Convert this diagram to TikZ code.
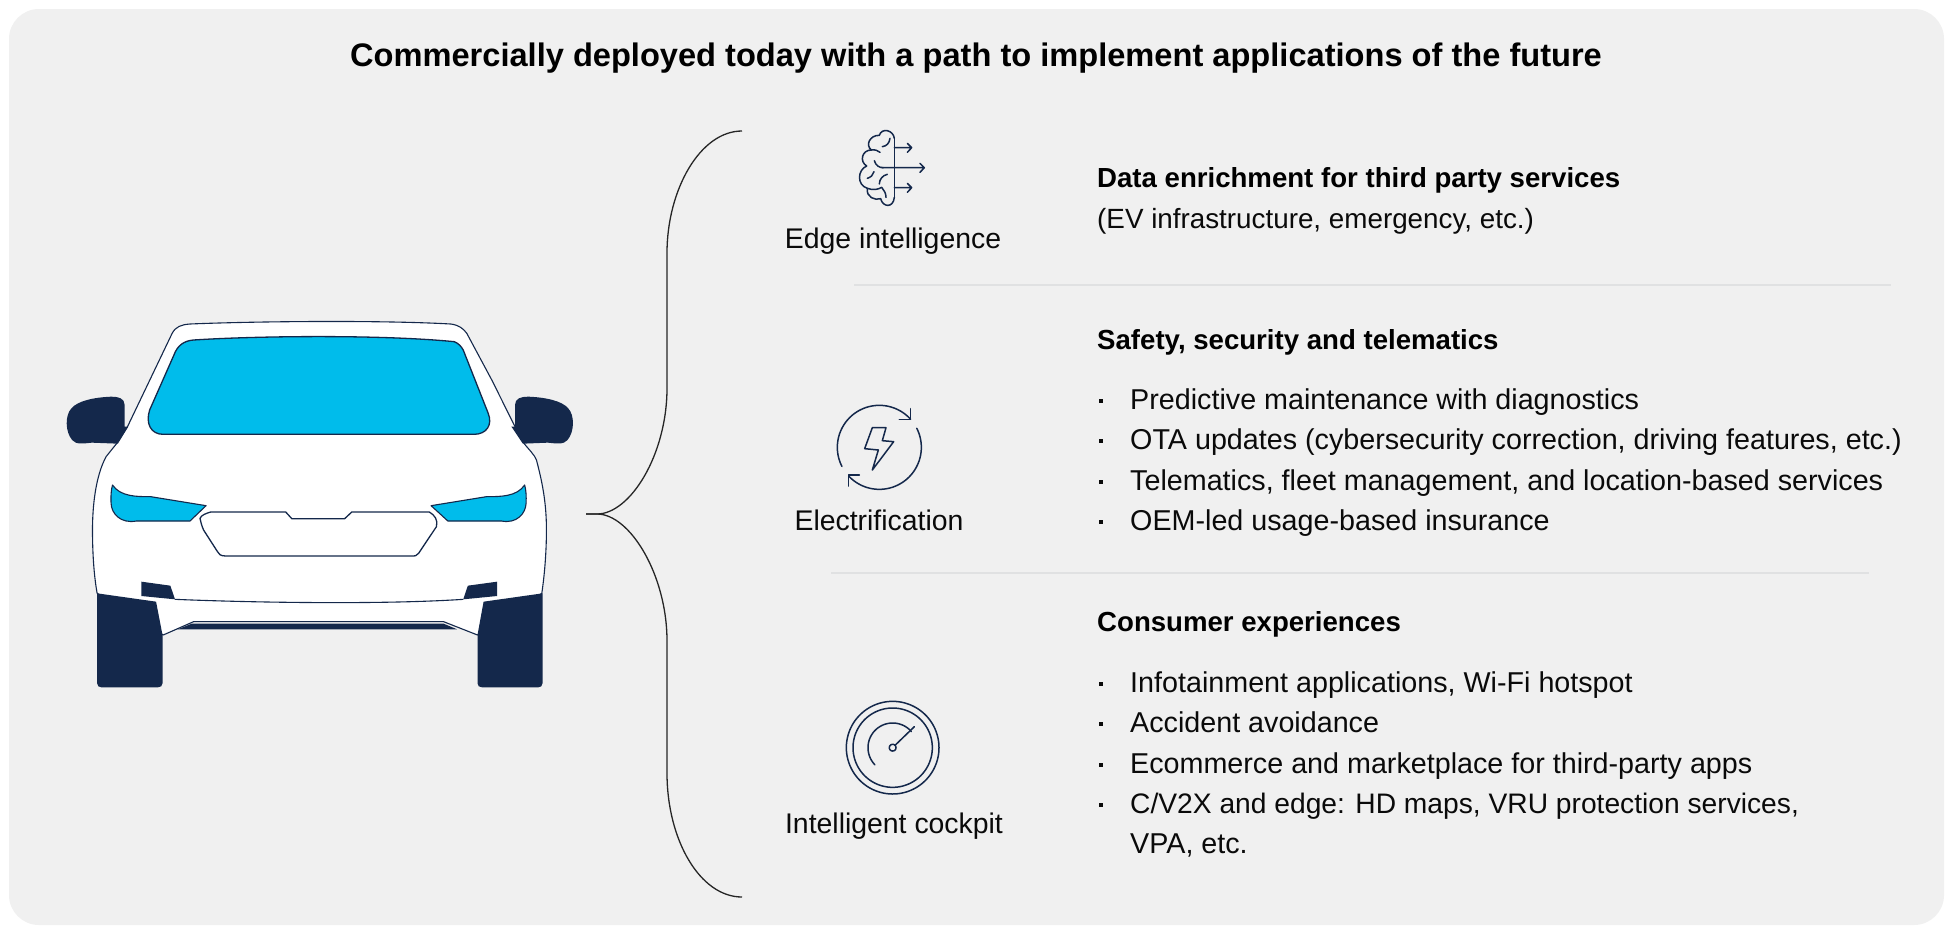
\documentclass[tikz,border=0pt]{standalone}
\usepackage{fontspec}
\setmainfont{Liberation Sans}
\definecolor{panelc}{HTML}{F0F0F0}
\definecolor{navy}{HTML}{14284B}
\definecolor{cyanc}{HTML}{00BCEB}
\definecolor{rulec}{HTML}{E0E1E2}
\definecolor{inkc}{HTML}{0A0A0A}
\tikzset{
  titletext/.style={anchor=base,inner sep=0pt,text=black,font=\fontsize{32.6}{38}\selectfont\bfseries},
  headtext/.style={anchor=base west,inner sep=0pt,text=black,font=\fontsize{27.6}{32}\selectfont\bfseries},
  bodytext/.style={anchor=base west,inner sep=0pt,text=inkc,font=\fontsize{28.7}{32}\selectfont},
  labeltext/.style={anchor=base,inner sep=0pt,text=inkc,font=\fontsize{28.4}{32}\selectfont},
  divider/.style={draw=rulec,line width=2.8pt},
  carline/.style={draw=navy,line width=1.1pt,line join=round},
  iconline/.style={draw=navy,line width=1.5pt,line cap=round,line join=round},
  brace/.style={draw=black!85,line width=1.3pt},
  bullet/.style={fill=inkc,minimum size=3.6pt,inner sep=0pt,draw=none,rectangle}
}
\begin{document}
\begin{tikzpicture}[x=1pt,y=-1pt]
\useasboundingbox (0,0) rectangle (1953,935);
\fill[white] (0,0) rectangle (1953,935);
\fill[panelc,rounded corners=30pt] (9,9) rectangle (1944,925);
% title
\node[titletext] (title) at (976,66) {Commercially deployed today with a path to implement applications of the future};
% brace
\coordinate (bt) at (742,131);
\coordinate (bm) at (586,514);
\coordinate (bb) at (742,897);
\draw[brace] (bt) .. controls (700,131) and (667,190) .. (667,253) -- (667,388)
  .. controls (667,455) and (630,514) .. (597,514) -- (bm);
\draw[brace] (bm) -- (597,514) .. controls (630,514) and (667,575) .. (667,641) -- (667,773)
  .. controls (667,840) and (700,897) .. (bb);
% dividers
\coordinate (d1a) at (854,285); \coordinate (d1b) at (1891,285);
\coordinate (d2a) at (831,573); \coordinate (d2b) at (1869,573);
\draw[divider] (d1a) -- (d1b);
\draw[divider] (d2a) -- (d2b);
% car
\begin{scope}[shift={(40,300)},x=0.35714pt,y=-0.33333pt]
  % body
  \filldraw[carline,fill=white] (370,100) .. controls (380,80) and (395,74) .. (420,72)
    .. controls (600,64) and (950,60) .. (1150,72)
    .. controls (1172,75) and (1185,85) .. (1195,100) -- (1265,240) -- (1330,380) -- (1355,430)
    .. controls (1370,450) and (1385,465) .. (1390,480)
    .. controls (1410,560) and (1418,620) .. (1418,690)
    .. controls (1418,760) and (1412,830) .. (1405,880)
    -- (1225,1005) -- (1130,965) -- (430,965) -- (345,1005) -- (160,880)
    .. controls (150,820) and (147,750) .. (147,690)
    .. controls (147,620) and (155,530) .. (185,470)
    -- (215,430) -- (245,380) -- cycle;
  % windscreen
  \filldraw[carline,fill=cyanc,line width=1.3pt] (430,120) .. controls (600,108) and (950,103) .. (1160,125)
    .. controls (1172,130) and (1180,140) .. (1185,150) -- (1255,340)
    .. controls (1268,375) and (1250,403) .. (1215,403) -- (345,403)
    .. controls (310,403) and (295,370) .. (307,330) -- (375,165)
    .. controls (385,135) and (405,122) .. (430,120) -- cycle;
  % mirrors
  \fill[navy] (237,380) -- (237,315) .. controls (237,295) and (220,290) .. (200,290)
    .. controls (150,292) and (105,303) .. (88,325)
    .. controls (70,345) and (70,395) .. (90,420)
    .. controls (100,435) and (125,430) .. (145,428) -- (218,431) -- (247,380) -- cycle;
  \fill[navy] (1330,380) -- (1330,315) .. controls (1330,295) and (1347,290) .. (1367,290)
    .. controls (1417,292) and (1462,303) .. (1479,325)
    .. controls (1497,345) and (1497,395) .. (1477,420)
    .. controls (1467,435) and (1442,430) .. (1422,428) -- (1352,431) -- (1320,380) -- cycle;
  % headlights
  \filldraw[carline,fill=cyanc] (203,555) .. controls (225,590) and (270,590) .. (310,590)
    -- (465,617) -- (420,663) -- (270,663)
    .. controls (225,672) and (200,640) .. (199,610)
    .. controls (198,590) and (199,570) .. (203,555) -- cycle;
  \filldraw[carline,fill=cyanc] (1357,555) .. controls (1335,590) and (1290,590) .. (1250,590)
    -- (1095,617) -- (1142,663) -- (1292,663)
    .. controls (1335,672) and (1360,640) .. (1361,610)
    .. controls (1362,590) and (1361,570) .. (1357,555) -- cycle;
  % grille
  \filldraw[carline,fill=white,line width=1.3pt] (478,636) -- (688,636) -- (705,656) -- (853,656) -- (873,636) -- (1090,636)
    .. controls (1105,645) and (1115,660) .. (1110,680) -- (1060,760)
    .. controls (1055,768) and (1050,768) .. (1040,768) -- (520,768)
    .. controls (505,768) and (500,762) .. (497,755) -- (458,690)
    .. controls (452,675) and (450,665) .. (448,655) .. controls (452,645) and (465,640) .. (478,636) -- cycle;
  % bumper line
  \draw[carline] (378,898) .. controls (600,908) and (960,914) .. (1185,898);
  % fog lamps
  \fill[navy] (284,845) -- (365,857) -- (378,898) -- (284,888) -- cycle;
  \fill[navy] (1280,845) -- (1198,857) -- (1185,898) -- (1280,888) -- cycle;
  % wheels
  \fill[navy] (160,880) -- (325,905) -- (343,1005) -- (343,1150) .. controls (343,1158) and (338,1162) .. (330,1162)
    -- (172,1162) .. controls (165,1162) and (160,1158) .. (160,1150) -- cycle;
  \fill[navy] (1407,880) -- (1242,905) -- (1225,1005) -- (1225,1150) .. controls (1225,1158) and (1230,1162) .. (1238,1162)
    -- (1395,1162) .. controls (1402,1162) and (1407,1158) .. (1407,1150) -- cycle;
  % under strip
  \fill[navy] (385,988) -- (425,971) -- (1130,971) -- (1168,988) -- cycle;
\end{scope}
% brain icon
\begin{scope}[shift={(780,110)},x=0.33333pt,y=-0.33333pt]
  \draw[iconline] (343,85) -- (343,262);
  \draw[iconline] (343,85) .. controls (340,60) and (305,52) .. (298,76)
    .. controls (270,75) and (255,105) .. (274,120)
    .. controls (245,120) and (238,155) .. (260,168)
    .. controls (232,180) and (230,225) .. (262,235)
    .. controls (258,262) and (285,272) .. (302,266)
    .. controls (308,292) and (340,295) .. (343,262);
  \draw[iconline] (330,85) .. controls (328,100) and (320,108) .. (307,110);
  \draw[iconline] (274,120) .. controls (285,118) and (295,122) .. (300,127);
  \draw[iconline] (283,152) .. controls (288,168) and (298,173) .. (310,173);
  \draw[iconline] (282,185) .. controls (280,195) and (272,202) .. (262,205);
  \draw[iconline] (322,193) .. controls (308,196) and (298,208) .. (298,222);
  \draw[iconline] (262,235) .. controls (280,242) and (295,238) .. (305,232) .. controls (312,240) and (318,250) .. (318,262);
  \draw[iconline] (343,113) -- (395,113) (382,100) -- (395,113) -- (382,127);
  \draw[iconline] (305,173) -- (433,173) (420,160) -- (433,173) -- (420,187);
  \draw[iconline] (343,233) -- (395,233) (382,220) -- (395,233) -- (382,247);
\end{scope}
% electrification icon
\begin{scope}[shift={(780,390)},x=0.33333pt,y=-0.33333pt]
  \draw[iconline] plot[domain=207:42,samples=70] ({298+126*cos(\x)},{172-126*sin(\x)});
  \draw[iconline] plot[domain=27:-137,samples=70] ({298+126*cos(\x)},{172-126*sin(\x)});
  \draw[iconline] (358,88) -- (392,88) -- (392,56);
  \draw[iconline] (238,255) -- (205,255) -- (205,288);
  \draw[iconline] (277,113) -- (318,113) -- (307,152) -- (341,155) -- (277,240) -- (295,180) -- (254,176) -- cycle;
\end{scope}
% gauge icon
\begin{scope}[shift={(780,690)},x=0.33333pt,y=-0.33333pt]
  \draw[iconline] plot[domain=0:360,samples=120] ({338+139*cos(\x)},{173-139*sin(\x)});
  \draw[iconline] plot[domain=0:360,samples=120] ({338+119*cos(\x)},{173-119*sin(\x)});
  \draw[iconline] plot[domain=224:41,samples=70] ({338+74*cos(\x)},{173-74*sin(\x)});
  \draw[iconline] plot[domain=0:360,samples=40] ({338+10*cos(\x)},{173-10*sin(\x)});
  \draw[iconline] (345,166) -- (403,110);
\end{scope}
% icon labels
\node[labeltext] (l1) at (893,248) {Edge intelligence};
\node[labeltext] (l2) at (879,530) {Electrification};
\node[labeltext] (l3) at (894,833) {Intelligent cockpit};
% block 1
\node[headtext] (h1) at (1097,187) {Data enrichment for third party services};
\node[bodytext,font=\fontsize{27.8}{32}\selectfont] (t11) at (1097,228) {(EV infrastructure, emergency, etc.)};
% block 2
\node[headtext] (h2) at (1097,349) {Safety, security and telematics};
\node[bodytext] (t21) at (1130,409) {Predictive maintenance with diagnostics};
\node[bodytext] (t22) at (1130,449) {OTA updates (cybersecurity correction, driving features, etc.)};
\node[bodytext] (t23) at (1130,490) {Telematics, fleet management, and location-based services};
\node[bodytext] (t24) at (1130,530) {OEM-led usage-based insurance};
\foreach \yy in {401,441,482,522} \node[bullet] at (1101,\yy) {};
% block 3
\node[headtext] (h3) at (1097,631) {Consumer experiences};
\node[bodytext] (t31) at (1130,692) {Infotainment applications, Wi-Fi hotspot};
\node[bodytext] (t32) at (1130,732) {Accident avoidance};
\node[bodytext] (t33) at (1130,773) {Ecommerce and marketplace for third-party apps};
\node[bodytext,font=\fontsize{28.2}{32}\selectfont] (t34) at (1130,813) {C/V2X and edge: HD maps, VRU protection services,};
\node[bodytext] (t35) at (1130,853) {VPA, etc.};
\foreach \yy in {684,724,765,805} \node[bullet] at (1101,\yy) {};
\end{tikzpicture}
\end{document}
